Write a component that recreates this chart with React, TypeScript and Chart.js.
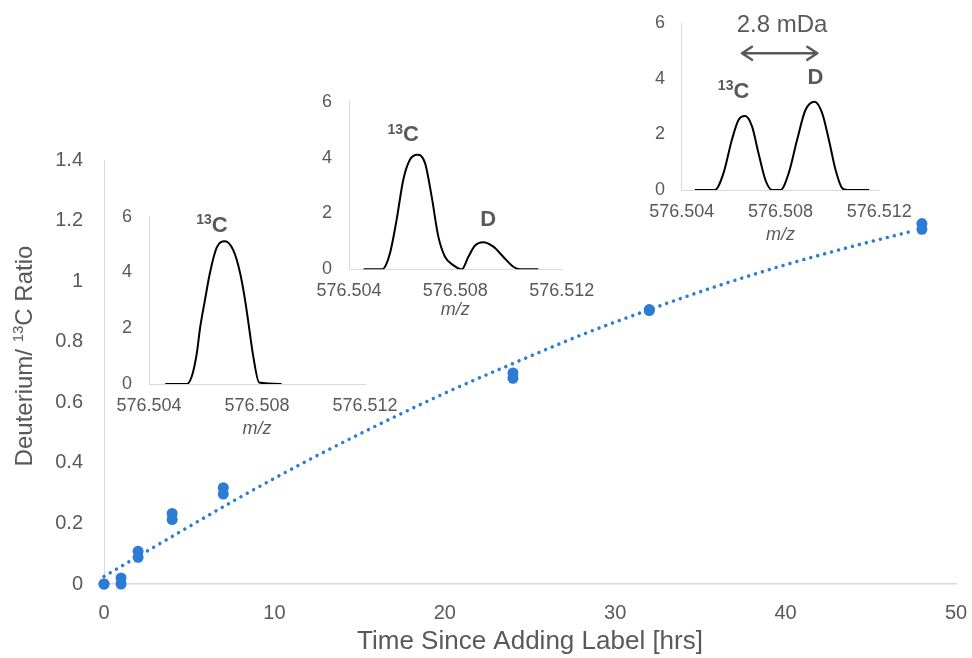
import React, { useEffect, useRef } from "react";
import { Chart, registerables } from "chart.js";

Chart.register(...registerables);

const FONT = "'Liberation Sans', Arial, Helvetica, sans-serif";
const TEXT = "#595959";
const AXIS = "#d9d9d9";
const BLUE = "#2a7dd2";

// ---------- main chart data ----------
const timeHours = [0, 0, 1, 1, 2, 2, 4, 4, 7, 7, 24, 24, 32, 32, 48, 48];
const ratioValues = [0, 0, 0.02, 0, 0.108, 0.088, 0.233, 0.213, 0.318, 0.297, 0.697, 0.679, 0.906, 0.903, 1.19, 1.171];
const trendHours = [0, 4, 8, 12, 16, 20, 24, 28, 32, 36, 40, 44, 47.5];
const trendRatio = [0.025, 0.157, 0.287, 0.409, 0.523, 0.63, 0.728, 0.822, 0.906, 0.984, 1.054, 1.116, 1.166];
const mainXTicks = [0, 10, 20, 30, 40, 50];
const mainYTicks = [0, 0.2, 0.4, 0.6, 0.8, 1, 1.2, 1.4];
const mainXTitle = "Time Since Adding Label [hrs]";
const mainYTitleParts = ["Deuterium/ ", "13", "C Ratio"];

// ---------- inset data ----------
const mzTicks = [576.504, 576.508, 576.512];
const intensityTicks = [0, 2, 4, 6];
const insetXTitle = "m/z";

const inset1Mz = [576.5046, 576.5054, 576.50558, 576.50577, 576.50589, 576.50607, 576.50626, 576.50651, 576.50681, 576.50712, 576.50737, 576.50756, 576.50771, 576.50786, 576.50808, 576.50891];
const inset1Int = [0, 0, 0.26, 1.1, 2.0, 3.0, 4.0, 4.9, 5.12, 4.8, 4.0, 3.0, 2.0, 1.0, 0.05, 0];

const inset2Mz = [576.50455, 576.50525, 576.50554, 576.50579, 576.50604, 576.50629, 576.50657, 576.50686, 576.50711, 576.50736, 576.50761, 576.50792, 576.50824, 576.50849, 576.50874, 576.50905, 576.50943, 576.5098, 576.51018, 576.51043, 576.51112];
const inset2Int = [0, 0, 0.57, 1.77, 3.2, 3.92, 4.1, 3.8, 2.6, 1.17, 0.45, 0.15, 0, 0.45, 0.85, 0.97, 0.81, 0.45, 0.09, 0, 0];

const inset3Mz = [576.50453, 576.50534, 576.50569, 576.50603, 576.5063, 576.50657, 576.50685, 576.50711, 576.50739, 576.50766, 576.508, 576.50833, 576.50867, 576.50901, 576.50938, 576.50969, 576.50996, 576.51023, 576.5105, 576.51071, 576.51159];
const inset3Int = [0, 0, 0.6, 1.8, 2.52, 2.66, 2.28, 1.32, 0.36, 0, 0, 0.6, 1.8, 2.88, 3.18, 2.76, 1.8, 0.72, 0.06, 0, 0];

type PeakLabel = { sup: string; text: string; mz: number; y: number };
const inset1Labels: PeakLabel[] = [{ sup: "13", text: "C", mz: 576.50633, y: 5.75 }];
const inset2Labels: PeakLabel[] = [
  { sup: "13", text: "C", mz: 576.50604, y: 4.87 },
  { sup: "", text: "D", mz: 576.50924, y: 1.83 },
];
const inset3Labels: PeakLabel[] = [
  { sup: "13", text: "C", mz: 576.5061, y: 3.6 },
  { sup: "", text: "D", mz: 576.50941, y: 4.1 },
];
const inset3Note = { text: "2.8 mDa", mz: 576.50806, y: 5.94 };
const inset3Arrow = { mzFrom: 576.50644, mzTo: 576.50949, y: 4.92 };

// ---------- helpers ----------
function drawSupText(ctx: CanvasRenderingContext2D, sup: string, text: string, cx: number, cy: number, size: number, supSize: number, raise: number, weight: string) {
  const mainFont = `${weight} ${size}px ${FONT}`;
  const supFont = `${weight} ${supSize}px ${FONT}`;
  ctx.font = supFont;
  const ws = sup ? ctx.measureText(sup).width : 0;
  ctx.font = mainFont;
  const wm = ctx.measureText(text).width;
  const start = cx - (ws + wm) / 2;
  const baseline = cy + size * 0.716 / 2;
  ctx.textAlign = "left";
  ctx.textBaseline = "alphabetic";
  ctx.fillStyle = TEXT;
  if (sup) {
    ctx.font = supFont;
    ctx.fillText(sup, start, baseline - raise);
  }
  ctx.font = mainFont;
  ctx.fillText(text, start + ws, baseline);
}

function zeroXPad(s: any) { s.paddingLeft = 0; s.paddingRight = 0; }
function zeroYPad(s: any) { s.paddingTop = 0; s.paddingBottom = 0; }

type InsetSpec = {
  left: number; top: number; width: number; height: number;
  padTop: number; padRight: number; yWidth: number; xHeight: number; yTickPad: number;
  mz: number[]; intensity: number[]; labels: PeakLabel[]; extra?: boolean;
};

function Inset({ spec }: { spec: InsetSpec }) {
  const ref = useRef<HTMLCanvasElement | null>(null);
  useEffect(() => {
    if (!ref.current) return;
    const labelPlugin = {
      id: "peakLabels",
      afterDatasetsDraw(chart: any) {
        const { ctx, scales } = chart;
        const xs = scales.x;
        const ys = scales.y;
        ctx.save();
        for (const l of spec.labels) {
          drawSupText(ctx, l.sup, l.text, xs.getPixelForValue(l.mz), ys.getPixelForValue(l.y), 22, 14, 7.5, "bold");
        }
        if (spec.extra) {
          ctx.font = `24px ${FONT}`;
          ctx.fillStyle = TEXT;
          ctx.textAlign = "center";
          ctx.textBaseline = "middle";
          ctx.fillText(inset3Note.text, xs.getPixelForValue(inset3Note.mz), ys.getPixelForValue(inset3Note.y));
          const x1 = xs.getPixelForValue(inset3Arrow.mzFrom);
          const x2 = xs.getPixelForValue(inset3Arrow.mzTo);
          const ay = ys.getPixelForValue(inset3Arrow.y);
          ctx.strokeStyle = TEXT;
          ctx.lineWidth = 2.5;
          ctx.lineCap = "round";
          ctx.lineJoin = "round";
          ctx.beginPath();
          ctx.moveTo(x1, ay);
          ctx.lineTo(x2, ay);
          ctx.moveTo(x1 + 10, ay - 6.5);
          ctx.lineTo(x1, ay);
          ctx.lineTo(x1 + 10, ay + 6.5);
          ctx.moveTo(x2 - 10, ay - 6.5);
          ctx.lineTo(x2, ay);
          ctx.lineTo(x2 - 10, ay + 6.5);
          ctx.stroke();
        }
        ctx.restore();
      },
    };
    const chart = new Chart(ref.current, {
      type: "line",
      data: {
        datasets: [
          {
            data: spec.mz.map((m, i) => ({ x: m, y: spec.intensity[i] })),
            borderColor: "#000000",
            borderWidth: 2,
            pointRadius: 0,
            cubicInterpolationMode: "monotone",
            fill: false,
          },
        ],
      },
      options: {
        responsive: false,
        animation: false,
        events: [],
        layout: { padding: { left: 0, top: spec.padTop, right: spec.padRight, bottom: 0 } },
        plugins: { legend: { display: false }, tooltip: { enabled: false } },
        scales: {
          x: {
            type: "linear",
            min: mzTicks[0],
            max: mzTicks[mzTicks.length - 1],
            afterBuildTicks: (s: any) => { s.ticks = mzTicks.map((v) => ({ value: v })); },
            afterFit: (s: any) => { s.height = spec.xHeight; zeroXPad(s); },
            grid: { display: false, drawTicks: false },
            border: { display: true, color: AXIS, width: 1 },
            ticks: {
              padding: 11, color: TEXT, font: { size: 18, family: FONT },
              maxRotation: 0, autoSkip: false,
              callback: (v: any) => Number(v).toFixed(3),
            },
            title: { display: true, text: insetXTitle, color: TEXT, font: { size: 18, family: FONT, style: "italic" }, padding: 0 },
          },
          y: {
            type: "linear",
            min: 0,
            max: 6,
            afterBuildTicks: (s: any) => { s.ticks = intensityTicks.map((v) => ({ value: v })); },
            afterFit: (s: any) => { s.width = spec.yWidth; zeroYPad(s); },
            grid: { display: false, drawTicks: false },
            border: { display: true, color: AXIS, width: 1 },
            ticks: { padding: spec.yTickPad, color: TEXT, font: { size: 18, family: FONT } },
          },
        },
      },
      plugins: [labelPlugin],
    } as any);
    return () => chart.destroy();
  }, [spec]);
  return (
    <canvas
      ref={ref}
      width={spec.width}
      height={spec.height}
      style={{ position: "absolute", left: spec.left, top: spec.top, width: spec.width, height: spec.height }}
    />
  );
}

const insetSpecs: InsetSpec[] = [
  { left: 100, top: 200, width: 300, height: 240, padTop: 16.7, padRight: 35, yWidth: 49, xHeight: 56, yTickPad: 17, mz: inset1Mz, intensity: inset1Int, labels: inset1Labels },
  { left: 300, top: 80, width: 300, height: 241, padTop: 21.7, padRight: 38.3, yWidth: 49, xHeight: 51.7, yTickPad: 17, mz: inset2Mz, intensity: inset2Int, labels: inset2Labels },
  { left: 620, top: 0, width: 300, height: 246, padTop: 23.3, padRight: 40.7, yWidth: 61.7, xHeight: 56, yTickPad: 16.7, mz: inset3Mz, intensity: inset3Int, labels: inset3Labels, extra: true },
];

function MainChart() {
  const ref = useRef<HTMLCanvasElement | null>(null);
  useEffect(() => {
    if (!ref.current) return;
    const yTitlePlugin = {
      id: "yTitle",
      afterDraw(chart: any) {
        const { ctx } = chart;
        ctx.save();
        ctx.translate(23, 356);
        ctx.rotate(-Math.PI / 2);
        const size = 24;
        const supSize = 15;
        const mainFont = `${size}px ${FONT}`;
        const supFont = `${supSize}px ${FONT}`;
        ctx.font = mainFont;
        const w1 = ctx.measureText(mainYTitleParts[0]).width;
        const w3 = ctx.measureText(mainYTitleParts[2]).width;
        ctx.font = supFont;
        const w2 = ctx.measureText(mainYTitleParts[1]).width;
        let x = -(w1 + w2 + w3) / 2;
        const base = size * 0.716 / 2;
        ctx.fillStyle = TEXT;
        ctx.textAlign = "left";
        ctx.textBaseline = "alphabetic";
        ctx.font = mainFont;
        ctx.fillText(mainYTitleParts[0], x, base);
        x += w1;
        ctx.font = supFont;
        ctx.fillText(mainYTitleParts[1], x, base - 9);
        x += w2;
        ctx.font = mainFont;
        ctx.fillText(mainYTitleParts[2], x, base);
        ctx.restore();
      },
    };
    const chart = new Chart(ref.current, {
      type: "scatter",
      data: {
        datasets: [
          {
            label: "Measured",
            data: timeHours.map((t, i) => ({ x: t, y: ratioValues[i] })),
            backgroundColor: BLUE,
            borderColor: BLUE,
            pointRadius: 5.5,
            pointBorderWidth: 0,
            showLine: false,
            clip: false,
            order: 0,
          },
          {
            label: "Trend",
            data: trendHours.map((t, i) => ({ x: t, y: trendRatio[i] })),
            borderColor: BLUE,
            borderWidth: 3.5,
            borderDash: [0.001, 7.2],
            borderCapStyle: "round",
            pointRadius: 0,
            showLine: true,
            cubicInterpolationMode: "monotone",
            fill: false,
            clip: false,
            order: 1,
          },
        ],
      },
      options: {
        responsive: false,
        animation: false,
        events: [],
        layout: { padding: { left: 0, top: 160, right: 16, bottom: 0 } },
        plugins: { legend: { display: false }, tooltip: { enabled: false } },
        scales: {
          x: {
            type: "linear",
            min: 0,
            max: 50,
            afterBuildTicks: (s: any) => { s.ticks = mainXTicks.map((v) => ({ value: v })); },
            afterFit: (s: any) => { s.height = 74; zeroXPad(s); },
            grid: { display: false, drawTicks: false },
            border: { display: true, color: AXIS, width: 1.5 },
            ticks: { padding: 17, color: TEXT, font: { size: 20, family: FONT }, maxRotation: 0, autoSkip: false },
            title: { display: true, text: mainXTitle, color: TEXT, font: { size: 26, family: FONT }, padding: { top: 0, bottom: 1 } },
          },
          y: {
            type: "linear",
            min: 0,
            max: 1.4,
            afterBuildTicks: (s: any) => { s.ticks = mainYTicks.map((v) => ({ value: v })); },
            afterFit: (s: any) => { s.width = 104; zeroYPad(s); },
            grid: { display: false, drawTicks: false },
            border: { display: true, color: AXIS, width: 1 },
            ticks: {
              padding: 21, color: TEXT, font: { size: 20, family: FONT },
              callback: (v: any) => String(Math.round(Number(v) * 10) / 10),
            },
          },
        },
      },
      plugins: [yTitlePlugin],
    } as any);
    return () => chart.destroy();
  }, []);
  return (
    <canvas ref={ref} width={972} height={658} style={{ position: "absolute", left: 0, top: 0, width: 972, height: 658 }} />
  );
}

export default function App() {
  return (
    <div style={{ position: "fixed", left: 0, top: 0, width: 972, height: 658, background: "#ffffff", overflow: "hidden" }}>
      <MainChart />
      {insetSpecs.map((s, i) => (
        <Inset key={i} spec={s} />
      ))}
    </div>
  );
}
